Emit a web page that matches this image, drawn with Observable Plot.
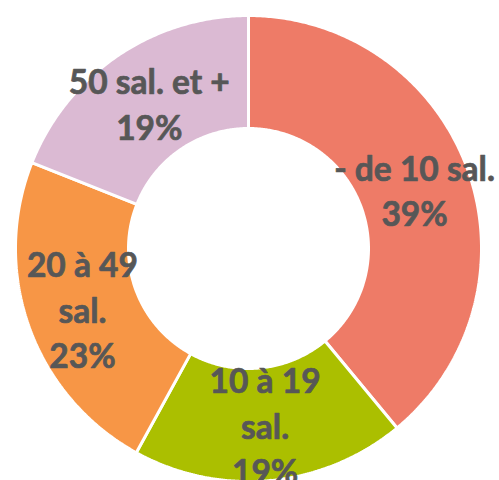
<!DOCTYPE html>
<html>
<head>
<meta charset="utf-8">
<script src="https://cdn.jsdelivr.net/npm/d3@7"></script>
<script src="https://cdn.jsdelivr.net/npm/@observablehq/plot@0.6"></script>
<style>
  html, body { margin: 0; padding: 0; background: #fff; }
  #chart svg { display: block; }
</style>
</head>
<body>
<div id="chart"></div>
<script>
// Data
const categories = ["- de 10 sal.", "10 à 19 sal.", "20 à 49 sal.", "50 sal. et +"];
const labels = ["- de 10 sal.", "10 à 19\nsal.", "20 à 49\nsal.", "50 sal. et +"];
const shares = [39, 19, 23, 19];
const colors = ["#EE7B67", "#ABBF00", "#F79646", "#DBBAD3"];

const innerRatio = 0.515;
const total = d3.sum(shares);

// Build slices (angles clockwise from 12 o'clock)
let acc = 0;
const slices = categories.map((c, i) => {
  const a0 = acc / total * 2 * Math.PI;
  acc += shares[i];
  const a1 = acc / total * 2 * Math.PI;
  return {cat: c, label: labels[i], value: shares[i], a0, a1};
});

const ringPts = [];
for (const s of slices) {
  const n = Math.max(8, Math.ceil((s.a1 - s.a0) / (Math.PI / 360)));
  for (let k = 0; k <= n; k++) {
    const a = s.a0 + (s.a1 - s.a0) * k / n;
    ringPts.push({cat: s.cat, x: Math.sin(a), y: Math.cos(a)});
  }
  for (let k = n; k >= 0; k--) {
    const a = s.a0 + (s.a1 - s.a0) * k / n;
    ringPts.push({cat: s.cat, x: innerRatio * Math.sin(a), y: innerRatio * Math.cos(a)});
  }
}

const rMid = (1 + innerRatio) / 2;
const labelPts = slices.map(s => {
  const a = (s.a0 + s.a1) / 2;
  return {text: `${s.label}\n${s.value}%`, x: rMid * Math.sin(a), y: rMid * Math.cos(a)};
});

const cx = 248, cy = 248, R = 233;

const chart = Plot.plot({
  width: 499,
  height: 480,
  margin: 0,
  x: {domain: [-1, 1], range: [cx - R, cx + R], axis: null},
  y: {domain: [-1, 1], range: [cy + R, cy - R], axis: null},
  color: {domain: categories, range: colors},
  marks: [
    Plot.line(ringPts, {
      x: "x", y: "y", z: "cat", fill: "cat",
      stroke: "white", strokeWidth: 3, strokeLinejoin: "miter",
      curve: "linear-closed"
    }),
    Plot.text(labelPts, {
      x: "x", y: "y", text: "text",
      fill: "#575757", stroke: "#575757", strokeWidth: 0.7,
      fontSize: 33.5, fontWeight: "bold",
      fontFamily: "Lato, 'Noto Sans', sans-serif",
      lineHeight: 1.36, textAnchor: "middle", lineAnchor: "middle"
    })
  ]
});

document.getElementById("chart").appendChild(chart);
</script>
</body>
</html>
